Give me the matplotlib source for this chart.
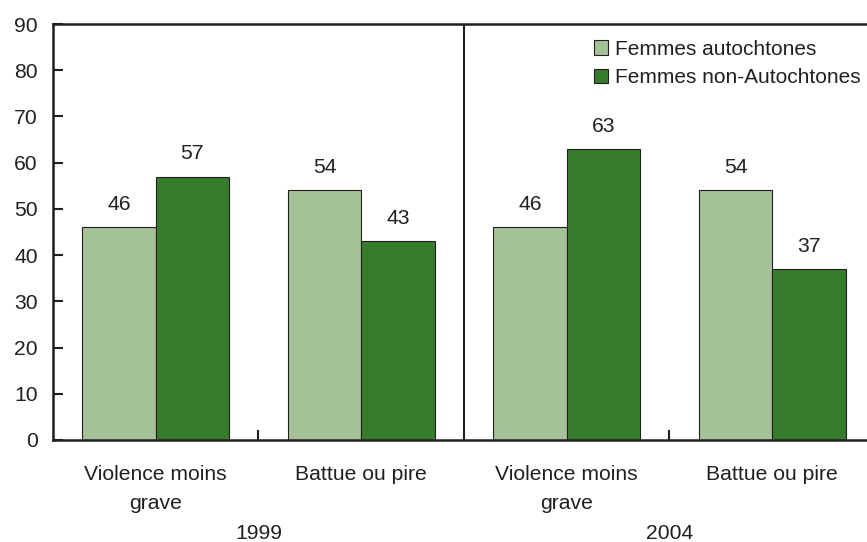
import matplotlib
matplotlib.use('Agg')
import matplotlib.pyplot as plt
import numpy as np

plt.rcParams['font.family'] = ['Liberation Sans', 'DejaVu Sans']

# donnees
categories = ['Violence moins\ngrave', 'Battue ou pire', 'Violence moins\ngrave', 'Battue ou pire']
years = ['1999', '2004']
autochtones = [46, 54, 46, 54]
non_autochtones = [57, 43, 63, 37]
series_names = ['Femmes autochtones', 'Femmes non-Autochtones']

light = '#a5c197'
dark = '#377b2d'
ink = '#231f20'
fs = 15.2

fig = plt.figure(figsize=(8.67, 5.42), dpi=100)
ax = fig.add_axes([0.0611, 0.1882, 0.948, 0.7675])

x = np.arange(len(categories))
w = 0.357
b1 = ax.bar(x - w / 2, autochtones, w, color=light, edgecolor=ink, linewidth=0.8,
            label=series_names[0])
b2 = ax.bar(x + w / 2, non_autochtones, w, color=dark, edgecolor=ink, linewidth=0.8,
            label=series_names[1])

for bars in (b1, b2):
    for r in bars:
        ax.text(r.get_x() + r.get_width() / 2, r.get_height() + 3.7, str(int(r.get_height())),
                ha='center', va='baseline', fontsize=fs, color=ink)

ax.set_xlim(-0.5, len(categories) - 0.5)
ax.set_ylim(0, 90)
ax.set_yticks(range(0, 91, 10))
ax.tick_params(axis='y', direction='in', length=7, width=1.5, labelsize=fs,
               colors=ink, pad=11)

# ticks en x seulement entre les categories, libelles a la main
ax.set_xticks([0.5, 2.5])
ax.set_xticklabels([])
ax.tick_params(axis='x', direction='in', length=7, width=1.5, colors=ink)
for xi, lab in zip(x, categories):
    for k, line in enumerate(lab.split('\n')):
        ax.text(xi, -8.66 - 6.3 * k, line, ha='center', va='baseline', fontsize=fs,
                color=ink)
for xi, yr in zip([0.5, 2.5], years):
    ax.text(xi, -21.5, yr, ha='center', va='baseline', fontsize=fs, color=ink)

# separateur entre 1999 et 2004
ax.axvline(1.5, color=ink, linewidth=1.5)

for s in ['left', 'bottom', 'top']:
    ax.spines[s].set_linewidth(1.8)
    ax.spines[s].set_color(ink)
ax.spines['right'].set_visible(False)

leg = ax.legend(loc='upper left', bbox_to_anchor=(0.648, 0.982), frameon=False,
                fontsize=15, handlelength=0.7, handleheight=0.7, handletextpad=0.3,
                labelspacing=0.45, borderaxespad=0)
for t in leg.get_texts():
    t.set_color(ink)

fig.savefig('out.png', dpi=100)
